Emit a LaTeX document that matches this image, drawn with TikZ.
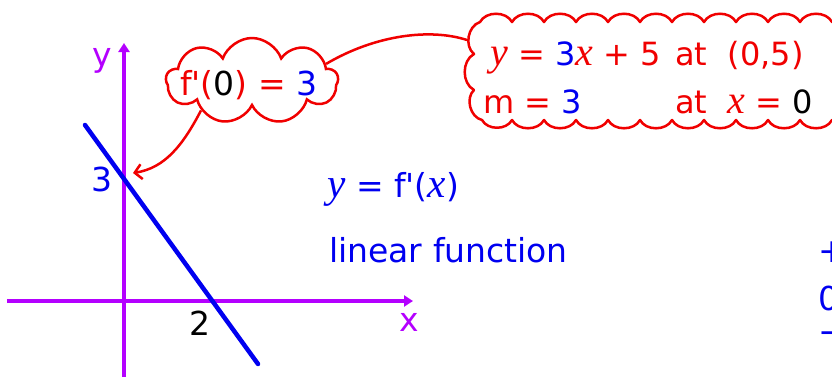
\documentclass[tikz,border=0pt]{standalone}
\usepackage{fontspec}
\setmainfont{DejaVu Sans}
\newfontfamily\tms{Liberation Serif}[Scale=1.25]
\usetikzlibrary{shapes.symbols,arrows.meta}
\definecolor{myred}{RGB}{240,0,0}
\definecolor{myblue}{RGB}{0,0,240}
\definecolor{mypurp}{RGB}{180,0,255}
\tikzset{
  lbl/.style={inner sep=0pt, font=\fontsize{33}{36}\selectfont},
  lblb/.style={inner sep=0pt, font=\fontsize{32}{34}\selectfont},
  cl/.style={cloud, draw=myred, line width=2.5pt, cloud puffs=#1, cloud puff arc=140, cloud ignores aspect, inner sep=0pt},
  axis/.style={mypurp, line width=4.5pt, -{Triangle[length=9pt,width=11pt]}},
  conn/.style={myred, line width=2.5pt},
  puff/.style={bend left=62},
}
\newcommand\vx{{\tms\itshape x}}
\newcommand\vy{{\tms\itshape y}}
\begin{document}
\begin{tikzpicture}[x=1pt,y=-1pt]
\useasboundingbox (0,0) rectangle (832,376);
\clip (0,0) rectangle (832,376);
% axes
\coordinate (xs) at (7,301);
\coordinate (xe) at (413,301);
\coordinate (ys) at (124,380);
\coordinate (ye) at (124,43);
\draw[axis] (xs) -- (xe);
\draw[axis] (ys) -- (ye);
% line
\coordinate (la) at (85,125);
\coordinate (lb) at (258,364);
\draw[myblue, line width=4.5pt, line cap=round] (la) -- (lb);
% axis labels
\node[lbl, mypurp, anchor=base] (ylab) at (102,66) {y};
\node[lbl, mypurp, anchor=base] (xlab) at (409,331) {x};
\node[lbl, myblue, anchor=base] (three) at (102,191) {3};
\node[lbl, anchor=base] (two) at (200,335) {2};
% cloud 1
\node[cl=9, minimum width=172pt, minimum height=86pt] (c1) at (252,81) {};
\node[lbl, anchor=base west] (t1) at (180,95) {\textcolor{myred}{f\textquotesingle(}0\textcolor{myred}{) = }\textcolor{myblue}{3}};
% cloud 2 (scalloped outline)
\draw[conn, line join=round]
  (480,22) \foreach \x in {512,544,...,864} { to[puff] (\x,22) }
  -- (880,22) -- (880,120) -- (864,120)
  \foreach \x in {832,800,...,512} { to[puff] (\x,120) }
  to[puff] (482,120) to[puff] (474,90) to[puff] (474,54) to[puff] cycle;
\coordinate (c2) at (467,40);
\node[lblb, anchor=base west] (l1a) at (490,65) {\textcolor{myred}{\vy{} = }\textcolor{myblue}{3}\textcolor{myred}{\vx{} + 5}};
\node[lblb, anchor=base west, myred] (l1b) at (675,65) {at\ \ (0,5)};
\node[lblb, anchor=base west] (l2a) at (483,113) {\textcolor{myred}{m = }\textcolor{myblue}{3}};
\node[lblb, anchor=base west] (l2b) at (675,113) {\textcolor{myred}{at\ \ \vx{} = }0};
% connectors
\coordinate (tip) at (133,173);
\draw[conn, -{Straight Barb[length=7pt,width=15pt]}] (c1.210) .. controls (183,145) and (165,168) .. (tip);
\draw[conn] (c1.13) .. controls (375,35) and (430,28) .. (c2);
% main text
\node[lbl, myblue, anchor=base west] (eq) at (327,197) {\vy{} = f\textquotesingle(\vx)};
\node[lbl, myblue, anchor=base west] (lin) at (329,262) {linear function};
% right edge
\node[lbl, myblue, anchor=west] (plus) at (818,252) {+};
\node[lbl, myblue, anchor=base west] (zero) at (818,310) {0};
\node[lbl, myblue, anchor=west] (minus) at (818,338) {−};
\end{tikzpicture}
\end{document}
